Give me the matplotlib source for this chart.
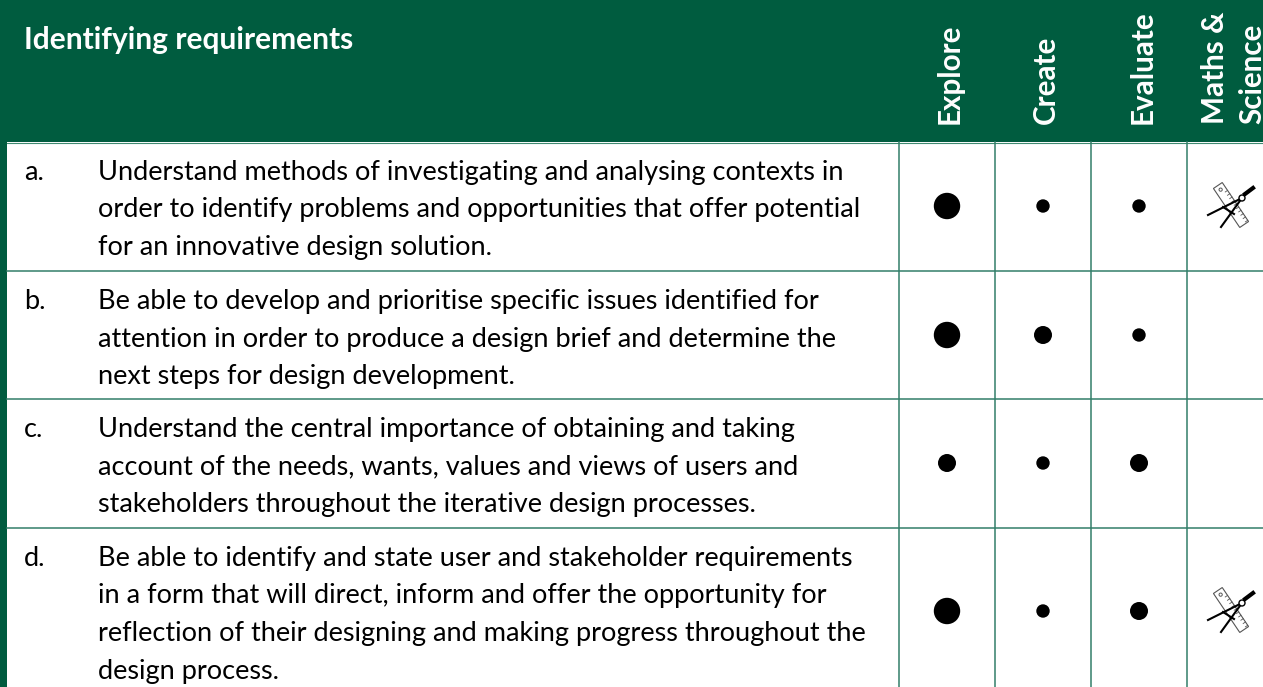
import numpy as np
import matplotlib
matplotlib.use("Agg")
import matplotlib.pyplot as plt
from matplotlib.patches import Rectangle, Circle, Polygon

plt.rcParams['font.family'] = ['Lato', 'DejaVu Sans']

W, H = 1263, 687
GREEN = "#005c3f"
LINE = "#337f69"

title = "Identifying requirements"
columns = ["Explore", "Create", "Evaluate", "Maths &", "Science"]
column_x = [959, 1055, 1152, 1224, 1261]  # baselines of the rotated labels
letters = ["a.", "b.", "c.", "d."]
rows = [
    ["Understand methods of investigating and analysing contexts in",
     "order to identify problems and opportunities that offer potential",
     "for an innovative design solution."],
    ["Be able to develop and prioritise specific issues identified for",
     "attention in order to produce a design brief and determine the",
     "next steps for design development."],
    ["Understand the central importance of obtaining and taking",
     "account of the needs, wants, values and views of users and",
     "stakeholders throughout the iterative design processes."],
    ["Be able to identify and state user and stakeholder requirements",
     "in a form that will direct, inform and offer the opportunity for",
     "reflection of their designing and making progress throughout the",
     "design process."],
]

# dot weight per row: 3 = large, 2 = medium, 1 = small
explore = [3, 3, 2, 3]
create = [1, 2, 1, 1]
evaluate = [1, 1, 2, 2]
dots = [explore, create, evaluate]
radius = {1: 6.7, 2: 9, 3: 13.2}
maths = [True, False, False, True]

col_x = [898.5, 995, 1091, 1187]
dot_x = [947, 1043, 1139]
row_y = [142, 271, 399, 528]
dot_y = [206, 335, 463, 611]
icon_x = 1231

fig = plt.figure(figsize=(W / 100, H / 100), dpi=100)
ax = fig.add_axes([0, 0, 1, 1])
ax.set_xlim(0, W)
ax.set_ylim(H, 0)
ax.axis("off")

ax.add_patch(Rectangle((0, 0), W, 142, color=GREEN, lw=0))
ax.add_patch(Rectangle((0, 0), 7.3, H, color=GREEN, lw=0))

ax.text(24, 49, title, color="white", fontsize=21.5, fontweight="bold", va="baseline")

for s, x in zip(columns, column_x):
    ax.text(x, 124, s, color="white", fontsize=21.3, fontweight="bold", rotation=90,
            rotation_mode="anchor", ha="left", va="baseline")

for y in row_y[1:]:
    ax.plot([7.3, W], [y, y], color=LINE, lw=1.1)
ax.plot([7.3, W], [142.5, 142.5], color="#3f8a72", lw=0.8)
for x in col_x:
    ax.plot([x, x], [142, H], color=LINE, lw=1.1)

for r, lines in enumerate(rows):
    top = row_y[r]
    ax.text(24, top + 38, letters[r], fontsize=19.5, color="black", va="baseline")
    for k, s in enumerate(lines):
        ax.text(98, top + 38 + k * 37.5, s, fontsize=19.5, color="black", va="baseline")


def draw_icon(cx, cy):
    # ruler, tilted, with tick marks
    u = np.array([0.56, 0.83])
    v = np.array([0.83, -0.56])
    c = np.array([cx, cy])
    corners = [c - 23.5 * u - 5.3 * v, c - 23.5 * u + 5.3 * v, c + 23.5 * u + 5.3 * v, c + 23.5 * u - 5.3 * v]
    ax.add_patch(Polygon(corners, closed=True, fc="white", ec="#555555", lw=0.8))
    for t in np.arange(-14, 23, 4):
        p0 = c + t * u + 5.3 * v
        p1 = c + t * u + 2.5 * v
        ax.plot([p0[0], p1[0]], [p0[1], p1[1]], color="#555555", lw=0.6)
    ax.add_patch(Circle(c - 18.5 * u, 1.6, fc="white", ec="#555555", lw=0.7))
    # compass legs, hinge, cross bar and handle
    hinge = (cx + 11, cy - 7)
    ax.plot([hinge[0], cx - 23], [hinge[1], cy + 10], color="black", lw=1.5)
    ax.plot([hinge[0], cx - 10], [hinge[1], cy + 22], color="black", lw=1.5)
    ax.plot([cx - 8, cx + 3], [cy + 2, cy + 9], color="black", lw=1.5)
    ax.plot([cx + 14, cx + 22], [cy - 11, cy - 17], color="black", lw=3)
    ax.add_patch(Circle(hinge, 3, fc="white", ec="black", lw=1, zorder=3))


for r in range(len(rows)):
    for c in range(len(dots)):
        ax.add_patch(Circle((dot_x[c], dot_y[r]), radius[dots[c][r]], fc="black", lw=0))
    if maths[r]:
        draw_icon(icon_x, dot_y[r] - 1)

fig.savefig("out.png", dpi=100)
